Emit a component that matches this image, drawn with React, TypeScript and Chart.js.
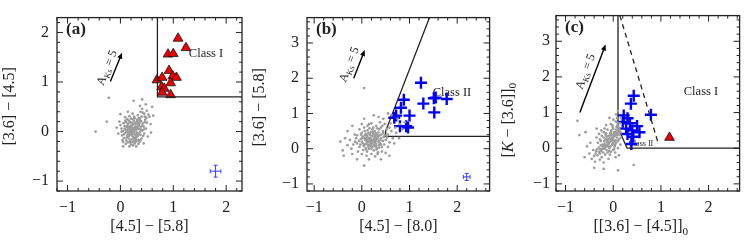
import React, { useEffect, useRef } from 'react';
import { Chart, registerables } from 'chart.js';
Chart.register(...registerables);

const SERIF = '"Liberation Serif", "DejaVu Serif", serif';
const INK = '#222';
const RED = '#ee0000';
const BLUE = '#0000ff';
const GREY = '#9c9c9c';

// ---------------- Panel (a) data ----------------
const aXRange = [-1.2, 2.3];
const aYRange = [-1.2, 2.3];
const aTriX = [1.09, 1.24, 0.9, 1.0, 0.92, 0.69, 0.79, 0.99, 1.06, 0.95, 0.78, 0.83, 0.79, 0.95];
const aTriY = [1.88, 1.69, 1.56, 1.57, 1.23, 1.04, 1.09, 1.12, 1.09, 0.98, 0.9, 0.87, 0.79, 0.74];
const aBoxX = [0.7, 0.7, 2.3];
const aBoxY = [2.3, 0.7, 0.7];
const aArrow = [-0.19, 1.01, 0.03, 1.59];
const aErr = [1.8, -0.8, 0.1, 0.12];
const aCloud: number[][] = [
  [0.22, 0.02], [0.18, -0.05], [0.27, 0.08], [0.31, -0.02], [0.14, 0.04], [0.24, -0.11], [0.35, 0.05], [0.2, 0.12],
  [0.09, -0.03], [0.29, 0.15], [0.38, -0.07], [0.16, -0.14], [0.26, -0.19], [0.33, 0.11], [0.12, 0.09], [0.41, 0.02],
  [0.05, 0.01], [0.19, 0.19], [0.3, -0.12], [0.23, 0.07], [0.13, -0.09], [0.36, 0.18], [0.08, 0.11], [0.28, -0.06],
  [0.17, 0.0], [0.4, -0.14], [0.21, -0.16], [0.34, -0.17], [0.11, -0.18], [0.25, 0.22], [0.44, 0.1], [0.03, -0.08],
  [0.15, 0.16], [0.32, 0.24], [0.06, 0.17], [0.39, 0.21], [0.27, -0.24], [0.19, -0.22], [0.45, -0.04], [0.02, 0.06],
  [0.24, 0.14], [0.3, 0.03], [0.15, -0.02], [0.21, -0.08], [0.37, -0.01], [0.1, 0.03], [0.26, 0.01], [0.33, -0.09],
  [0.18, 0.07], [0.28, 0.1], [0.12, -0.12], [0.22, -0.03], [0.35, 0.13], [0.07, -0.13], [0.42, 0.16], [0.16, 0.22],
  [0.29, -0.16], [0.0, 0.13], [0.48, 0.06], [0.36, -0.21], [0.2, 0.26], [0.13, 0.25], [0.47, 0.24], [0.04, -0.17],
  [0.31, 0.2], [0.24, -0.28], [0.4, 0.3], [0.5, 0.18], [0.17, -0.3], [0.33, 0.33], [0.45, 0.36], [0.26, 0.3],
  [-0.02, 0.2], [0.09, 0.29], [0.52, -0.1], [0.38, 0.4], [-0.04, -0.04], [0.55, 0.3], [0.44, -0.24], [0.1, -0.25],
  [0.3, -0.3], [0.5, 0.42], [0.57, 0.15], [0.23, 0.36], [0.41, 0.46], [0.35, 0.27], [0.46, 0.3], [0.53, 0.34],
  [-0.07, 0.08], [0.6, 0.5], [0.48, 0.55], [0.41, 0.65], [0.25, 0.62], [-0.22, 0.68], [-0.47, 0.0], [-0.26, 0.2],
  [0.14, 0.4], [0.62, 0.32], [0.05, -0.3], [0.58, -0.02], [0.0, 0.35], [0.37, 0.52], [0.2, -0.01], [0.25, 0.05],
  [0.32, 0.07], [0.17, 0.1], [0.23, -0.06], [0.29, -0.09], [0.14, -0.06], [0.38, 0.09], [0.27, 0.18], [0.2, 0.04],
  [0.19, 0.03], [0.26, -0.02], [0.31, 0.09], [0.13, 0.12], [0.22, 0.17], [0.35, -0.04], [0.16, -0.09], [0.28, -0.13],
  [0.39, 0.04], [0.08, 0.06], [0.24, 0.25], [0.18, -0.19], [0.33, 0.16], [0.43, -0.09], [0.11, 0.19], [0.06, -0.06],
  [0.37, 0.26], [0.21, 0.1], [0.3, -0.2], [0.14, -0.22], [0.41, 0.12], [0.25, -0.14], [0.02, 0.0], [0.46, 0.19],
  [0.34, -0.25], [0.09, 0.22], [0.27, 0.27], [0.17, 0.31], [0.44, 0.04], [0.32, -0.05], [0.2, -0.26], [0.38, -0.18],
  [0.12, 0.0], [0.29, 0.05], [0.23, -0.21], [0.36, 0.22], [0.15, 0.08], [0.05, -0.21], [0.49, 0.28], [0.42, 0.38],
];

// ---------------- Panel (b) data ----------------
const bXRange = [-1.15, 2.68];
const bYRange = [-1.2, 3.72];
const bCrossX = [1.24, 1.51, 1.55, 1.78, 1.29, 1.52, 0.88, 0.82, 0.72, 0.68, 1.0, 0.8, 0.93, 0.97];
const bCrossY = [1.87, 1.43, 1.45, 1.41, 1.28, 1.03, 1.39, 1.16, 0.94, 0.88, 0.94, 0.64, 0.64, 0.6];
const bLineX = [2.7, 0.5, 0.5, 1.42];
const bLineY = [0.35, 0.35, 0.5, 3.72];
const bArrow = [-0.17, 2.0, 0.06, 2.8];
const bErr = [2.2, -0.8, 0.07, 0.1];
const bCloud: number[][] = [
  [0.2, 0.25], [0.12, 0.18], [0.28, 0.32], [0.05, 0.1], [0.35, 0.2], [0.18, 0.38], [0.25, 0.12], [0.1, 0.3],
  [0.32, 0.4], [0.0, 0.2], [0.22, 0.05], [0.4, 0.3], [0.15, 0.0], [0.3, 0.08], [0.08, 0.42], [0.45, 0.45],
  [0.27, 0.5], [-0.05, 0.05], [0.38, 0.15], [0.17, 0.22], [0.23, 0.35], [0.13, 0.1], [0.33, 0.27], [0.07, 0.25],
  [0.42, 0.05], [0.02, 0.35], [0.25, -0.05], [0.5, 0.25], [-0.1, 0.15], [0.19, 0.47], [0.36, 0.55], [0.11, -0.08],
  [0.29, 0.22], [0.47, 0.12], [-0.02, 0.4], [0.21, 0.15], [0.14, 0.31], [0.31, -0.02], [0.55, 0.4], [0.03, -0.04],
  [0.4, 0.6], [-0.12, 0.3], [0.26, 0.28], [0.09, 0.14], [0.37, 0.38], [0.16, 0.58], [0.52, 0.55], [-0.08, -0.08],
  [0.24, 0.6], [0.44, 0.22], [0.06, 0.5], [0.34, -0.1], [-0.18, 0.12], [0.58, 0.18], [0.2, -0.15], [0.3, 0.65],
  [0.48, 0.7], [-0.15, 0.4], [0.62, 0.5], [0.12, 0.65], [0.0, -0.15], [0.42, -0.08], [-0.22, 0.0], [0.65, 0.3],
  [0.55, 0.05], [-0.25, 0.25], [0.38, 0.75], [0.1, -0.2], [0.7, 0.6], [-0.3, 0.1], [0.2, 0.72], [0.5, -0.12],
  [-0.05, 0.55], [0.6, 0.72], [0.72, 0.45], [0.28, -0.22], [-0.35, 0.3], [0.45, 0.85], [-0.2, -0.15], [0.8, 0.7],
  [0.68, 0.15], [0.0, 0.7], [-0.4, -0.05], [0.35, 0.9], [0.58, -0.2], [-0.3, 0.5], [0.75, 0.85], [0.15, -0.3],
  [0.85, 0.55], [-0.45, 0.2], [0.05, 0.85], [0.62, 0.95], [-0.1, -0.3], [0.25, 0.95], [0.9, 0.75], [0.4, -0.3],
  [-0.38, -0.2], [0.55, 1.0], [-0.2, 0.65], [0.78, 0.3], [0.05, -0.48], [0.05, 1.72], [0.15, 0.2], [0.27, 0.18],
  [0.33, 0.33], [0.19, 0.08], [0.06, 0.3], [0.24, 0.42], [0.41, 0.4], [0.11, 0.37], [0.3, 0.14], [0.17, 0.28],
  [-0.02, 0.28], [0.46, 0.33], [0.22, 0.22], [0.14, 0.44], [0.36, 0.1], [0.08, 0.02], [0.29, 0.44], [0.03, 0.15],
  [0.18, 0.3], [0.26, 0.2], [0.1, 0.22], [0.34, 0.36], [0.04, 0.08], [0.23, 0.48], [0.31, 0.02], [0.16, 0.12],
  [0.39, 0.24], [0.01, 0.3], [0.12, 0.52], [0.28, 0.38], [0.44, 0.5], [0.2, 0.0], [0.07, 0.38], [0.35, 0.46],
  [-0.06, 0.22], [0.25, 0.25], [0.14, 0.05], [0.48, 0.38], [0.32, 0.58], [0.09, -0.02], [-0.03, 0.12], [0.4, 0.12],
  [0.22, 0.55], [0.17, 0.4], [0.3, 0.28], [0.12, 0.26], [0.36, 0.03], [0.53, 0.32], [0.05, 0.6], [0.27, 0.07],
  [-0.1, 0.38], [0.43, 0.65], [0.19, 0.16], [0.0, 0.45], [0.58, 0.6], [0.33, -0.15], [0.15, 0.7], [-0.14, 0.2],
];

// ---------------- Panel (c) data ----------------
const cXRange = [-1.2, 2.65];
const cYRange = [-1.2, 3.72];
const cCrossX = [0.43, 0.37, 0.79, 0.22, 0.3, 0.2, 0.35, 0.5, 0.27, 0.4, 0.55, 0.3, 0.42, 0.38];
const cCrossY = [1.47, 1.25, 0.94, 0.92, 0.84, 0.74, 0.7, 0.62, 0.55, 0.5, 0.45, 0.4, 0.32, 0.12];
const cTriX = [1.18];
const cTriY = [0.3];
const cSolidX = [0.1, 0.1, 0.29, 2.7];
const cSolidY = [3.72, 0.58, 0.0, 0.0];
const cDashX = [0.14, 0.93];
const cDashY = [3.72, 0.2];
const cArrow = [-0.7, 1.0, -0.16, 2.91];
const cCloud: number[][] = [
  [-0.05, 0.2], [0.0, 0.28], [-0.1, 0.12], [0.04, 0.35], [-0.15, 0.05], [0.07, 0.42], [-0.2, -0.02], [-0.02, 0.1],
  [-0.08, 0.28], [0.05, 0.22], [-0.12, 0.2], [0.02, 0.45], [-0.18, 0.12], [0.1, 0.5], [-0.25, -0.08], [-0.03, 0.38],
  [-0.14, -0.05], [0.08, 0.3], [-0.06, 0.05], [-0.22, 0.1], [0.0, 0.15], [-0.1, 0.35], [0.12, 0.58], [-0.28, -0.15],
  [0.06, 0.15], [-0.16, 0.25], [-0.04, 0.5], [-0.3, 0.02], [0.03, 0.05], [-0.2, 0.3], [0.09, 0.65], [-0.33, -0.2],
  [-0.09, -0.08], [0.12, 0.38], [-0.26, 0.2], [-0.01, 0.6], [-0.36, -0.08], [0.0, -0.05], [-0.15, 0.42], [0.14, 0.7],
  [-0.24, -0.25], [0.1, 0.2], [-0.4, -0.22], [-0.12, 0.52], [0.05, 0.75], [-0.32, 0.15], [-0.07, -0.18], [-0.2, 0.45],
  [0.04, -0.12], [-0.42, -0.05], [0.15, 0.45], [-0.05, 0.68], [-0.17, -0.18], [-0.35, 0.3], [0.08, 0.85], [-0.28, -0.32],
  [0.1, 0.0], [-0.25, 0.5], [-0.45, -0.3], [0.0, 0.8], [-0.1, -0.3], [-0.3, 0.4], [0.16, 0.3], [-0.5, -0.15],
  [-0.15, 0.65], [0.05, -0.25], [-0.38, -0.38], [0.06, 0.95], [-0.55, 0.05], [-0.2, -0.4], [-0.08, 0.85], [0.15, 0.1],
  [-0.6, -0.25], [-0.35, 0.55], [0.12, -0.2], [-0.48, 0.15], [0.1, 1.05], [-0.71, 0.37], [-0.75, 0.77], [-0.2, -0.58],
  [0.1, -0.62], [-0.4, -0.55], [-0.58, 0.45], [0.16, 0.85], [-0.03, 0.3], [-0.07, 0.18], [-0.13, 0.1], [0.02, 0.4],
  [-0.18, 0.0], [-0.11, 0.25], [-0.22, 0.05], [0.06, 0.52], [-0.06, 0.42], [-0.27, -0.03], [0.43, -0.47], [-0.01, 0.22],
  [-0.04, 0.25], [-0.09, 0.15], [0.01, 0.33], [-0.13, 0.18], [0.03, 0.2], [-0.06, 0.36], [-0.17, 0.07], [0.05, 0.45],
  [-0.11, 0.05], [-0.01, 0.12], [-0.19, 0.2], [0.08, 0.38], [-0.23, -0.02], [-0.05, 0.45], [0.0, 0.55], [-0.14, 0.32],
  [-0.26, 0.08], [0.07, 0.6], [-0.08, 0.0], [-0.21, -0.12], [0.11, 0.45], [-0.3, -0.1], [-0.16, 0.38], [0.04, 0.1],
  [-0.02, 0.65], [-0.12, -0.12], [0.13, 0.52], [-0.34, -0.03], [-0.24, 0.35], [0.02, -0.02], [-0.18, 0.55], [0.09, 0.72],
  [-0.37, -0.15], [-0.05, -0.1], [-0.28, 0.25], [0.12, 0.25],
];

type Seg = { t: string; it?: boolean; sub?: boolean };
type Label = { text: Seg[]; x: number; y: number; size: number; under?: boolean };

type PanelCfg = {
  left: number; width: number; yAxisW: number; padRight: number; yTickPad: number;
  xRange: number[]; yRange: number[];
  tag: string;
  xTitle: Seg[]; yTitle: Seg[]; xTitleDx: number; yTitleDy: number; yTitleX: number;
  datasets: any[];
  arrow: number[]; arrowText: number[];
  err: number[] | null;
  labels: Label[];
};

const pts = (xs: number[], ys: number[]) => xs.map((x, i) => ({ x, y: ys[i] }));
const cloudPts = (c: number[][]) => c.map(([x, y]) => ({ x, y }));

const cloudDs = (c: number[][]) => ({
  data: cloudPts(c), pointRadius: 1.35, pointBorderWidth: 0, pointBackgroundColor: GREY, showLine: false,
});
const lineDs = (xs: number[], ys: number[], dash: number[] = []) => ({
  data: pts(xs, ys), showLine: true, pointRadius: 0, borderColor: INK, borderWidth: 1.3, borderDash: dash, fill: false, tension: 0,
});
const triDs = (xs: number[], ys: number[]) => ({
  data: pts(xs, ys), pointStyle: 'triangle', pointRadius: 5.6, pointBackgroundColor: RED, pointBorderColor: '#111', pointBorderWidth: 0.8, showLine: false,
});
const crossDs = (xs: number[], ys: number[]) => ({
  data: pts(xs, ys), pointStyle: 'cross', pointRadius: 6, pointBorderColor: BLUE, pointBorderWidth: 2.4, showLine: false,
});

const AKS: Seg[] = [{ t: 'A' }, { t: 'Ks', sub: true }, { t: ' = 5' }];

const panels: PanelCfg[] = [
  {
    left: 0, width: 250, yAxisW: 57, padRight: 8, yTickPad: 8,
    xRange: aXRange, yRange: aYRange, tag: '(a)',
    xTitle: [{ t: '[4.5] − [5.8]' }], yTitle: [{ t: '[3.6] − [4.5]' }], xTitleDx: 0, yTitleDy: 2, yTitleX: 9.5,
    datasets: [cloudDs(aCloud), lineDs(aBoxX, aBoxY), triDs(aTriX, aTriY)],
    arrow: aArrow, arrowText: [-4, 8], err: aErr,
    labels: [{ text: [{ t: 'Class I' }], x: 1.62, y: 1.57, size: 12.5 }],
  },
  {
    left: 250, width: 248, yAxisW: 57, padRight: 6, yTickPad: 8,
    xRange: bXRange, yRange: bYRange, tag: '(b)',
    xTitle: [{ t: '[4.5] − [8.0]' }], yTitle: [{ t: '[3.6] − [5.8]' }], xTitleDx: 0, yTitleDy: 3, yTitleX: 9.5,
    datasets: [cloudDs(bCloud), lineDs(bLineX, bLineY), crossDs(bCrossX, bCrossY)],
    arrow: bArrow, arrowText: [-4, 9], err: bErr,
    labels: [{ text: [{ t: 'Class II' }], x: 1.89, y: 1.58, size: 12.5, under: true }],
  },
  {
    left: 498, width: 250, yAxisW: 58, padRight: 8, yTickPad: 6,
    xRange: cXRange, yRange: cYRange, tag: '(c)',
    xTitle: [{ t: '[[3.6] − [4.5]]' }, { t: '0', sub: true }],
    yTitle: [{ t: '[' }, { t: 'K', it: true }, { t: ' − [3.6]]' }, { t: '0', sub: true }],
    xTitleDx: -7, yTitleDy: 17, yTitleX: 10.5,
    datasets: [cloudDs(cCloud), lineDs(cSolidX, cSolidY), lineDs(cDashX, cDashY, [5, 4]), crossDs(cCrossX, cCrossY), triDs(cTriX, cTriY)],
    arrow: cArrow, arrowText: [4, 9], err: null,
    labels: [
      { text: [{ t: 'Class I' }], x: 1.84, y: 1.58, size: 12.5 },
      { text: [{ t: 'Class II' }], x: 0.58, y: 0.13, size: 8, under: true },
    ],
  },
];

function segFont(s: Seg, size: number) {
  const sz = s.sub ? size * 0.7 : size;
  return `${s.it ? 'italic ' : ''}${sz}px ${SERIF}`;
}
function richWidth(ctx: CanvasRenderingContext2D, segs: Seg[], size: number) {
  let w = 0;
  for (const s of segs) { ctx.font = segFont(s, size); w += ctx.measureText(s.t).width; }
  return w;
}
function drawRich(ctx: CanvasRenderingContext2D, segs: Seg[], cx: number, cy: number, size: number, rot = 0) {
  ctx.save();
  ctx.translate(cx, cy);
  ctx.rotate(rot);
  ctx.fillStyle = INK;
  ctx.textBaseline = 'middle';
  ctx.textAlign = 'left';
  let x = -richWidth(ctx, segs, size) / 2;
  for (const s of segs) {
    ctx.font = segFont(s, size);
    ctx.fillText(s.t, x, s.sub ? size * 0.3 : 0);
    x += ctx.measureText(s.t).width;
  }
  ctx.restore();
}

function makeDeco(p: PanelCfg) {
  return {
    id: 'deco',
    beforeDatasetsDraw(chart: any) {
      const ctx = chart.ctx as CanvasRenderingContext2D;
      const xs = chart.scales.x, ys = chart.scales.y;
      for (const l of p.labels) if (l.under) drawRich(ctx, l.text, xs.getPixelForValue(l.x), ys.getPixelForValue(l.y), l.size);
    },
    afterDatasetsDraw(chart: any) {
      const ctx = chart.ctx as CanvasRenderingContext2D;
      const xs = chart.scales.x, ys = chart.scales.y;
      for (const l of p.labels) if (!l.under) drawRich(ctx, l.text, xs.getPixelForValue(l.x), ys.getPixelForValue(l.y), l.size);
      // arrow
      const x0 = xs.getPixelForValue(p.arrow[0]), y0 = ys.getPixelForValue(p.arrow[1]);
      const x1 = xs.getPixelForValue(p.arrow[2]), y1 = ys.getPixelForValue(p.arrow[3]);
      const ang = Math.atan2(y1 - y0, x1 - x0);
      const len = Math.hypot(x1 - x0, y1 - y0);
      ctx.save();
      ctx.translate(x0, y0);
      ctx.rotate(ang);
      ctx.strokeStyle = '#000';
      ctx.fillStyle = '#000';
      ctx.lineWidth = 1.4;
      ctx.beginPath(); ctx.moveTo(0, 0); ctx.lineTo(len - 5, 0); ctx.stroke();
      ctx.beginPath(); ctx.moveTo(len, 0); ctx.lineTo(len - 6, -2.6); ctx.lineTo(len - 6, 2.6); ctx.closePath(); ctx.fill();
      ctx.restore();
      const mx = (x0 + x1) / 2, my = (y0 + y1) / 2;
      const ux = Math.cos(ang), uy = Math.sin(ang);
      const along = p.arrowText[0], perp = p.arrowText[1];
      const tx = mx + ux * along + uy * perp;
      const ty = my + uy * along - ux * perp;
      drawRich(ctx, AKS, tx, ty, 12, ang);
      // error bar
      if (p.err) {
        const ex = xs.getPixelForValue(p.err[0]), ey = ys.getPixelForValue(p.err[1]);
        const exl = xs.getPixelForValue(p.err[0] - p.err[2]), exr = xs.getPixelForValue(p.err[0] + p.err[2]);
        const eyt = ys.getPixelForValue(p.err[1] + p.err[3]), eyb = ys.getPixelForValue(p.err[1] - p.err[3]);
        ctx.save();
        ctx.strokeStyle = '#3a3aff';
        ctx.lineWidth = 1;
        ctx.beginPath();
        ctx.moveTo(exl, ey); ctx.lineTo(exr, ey);
        ctx.moveTo(ex, eyt); ctx.lineTo(ex, eyb);
        ctx.moveTo(exl, ey - 2); ctx.lineTo(exl, ey + 2);
        ctx.moveTo(exr, ey - 2); ctx.lineTo(exr, ey + 2);
        ctx.moveTo(ex - 2, eyt); ctx.lineTo(ex + 2, eyt);
        ctx.moveTo(ex - 2, eyb); ctx.lineTo(ex + 2, eyb);
        ctx.stroke();
        ctx.restore();
      }
    },
    afterDraw(chart: any) {
      const ctx = chart.ctx as CanvasRenderingContext2D;
      const { left, right, top, bottom } = chart.chartArea;
      const xs = chart.scales.x, ys = chart.scales.y;
      ctx.save();
      ctx.strokeStyle = INK;
      ctx.lineWidth = 1.3;
      ctx.strokeRect(left, top, right - left, bottom - top);
      ctx.lineWidth = 1;
      ctx.beginPath();
      for (let i = Math.ceil(xs.min * 5 - 1e-6); i <= Math.floor(xs.max * 5 + 1e-6); i++) {
        const L = i % 5 === 0 ? 6 : 3;
        const px = xs.getPixelForValue(i / 5);
        ctx.moveTo(px, bottom); ctx.lineTo(px, bottom - L);
        ctx.moveTo(px, top); ctx.lineTo(px, top + L);
      }
      for (let i = Math.ceil(ys.min * 5 - 1e-6); i <= Math.floor(ys.max * 5 + 1e-6); i++) {
        const L = i % 5 === 0 ? 6 : 3;
        const py = ys.getPixelForValue(i / 5);
        ctx.moveTo(left, py); ctx.lineTo(left + L, py);
        ctx.moveTo(right, py); ctx.lineTo(right - L, py);
      }
      ctx.stroke();
      ctx.fillStyle = INK;
      ctx.font = `bold 17px ${SERIF}`;
      ctx.textAlign = 'left';
      ctx.textBaseline = 'middle';
      ctx.fillText(p.tag, left + 9, top + 12);
      ctx.restore();
      drawRich(ctx, p.xTitle, (left + right) / 2 + p.xTitleDx, 227, 16);
      drawRich(ctx, p.yTitle, p.yTitleX, (top + bottom) / 2 + p.yTitleDy, 16, -Math.PI / 2);
    },
  };
}

const fmt = (v: number) => (Number.isInteger(v) ? (v < 0 ? '−' + Math.abs(v) : String(v)) : '');

function Panel({ p }: { p: PanelCfg }) {
  const ref = useRef<HTMLCanvasElement | null>(null);
  useEffect(() => {
    if (!ref.current) return;
    const tickFont = { family: SERIF, size: 16 };
    const chart = new Chart(ref.current, {
      type: 'scatter',
      data: { datasets: p.datasets as any },
      options: {
        animation: false,
        responsive: false,
        maintainAspectRatio: false,
        devicePixelRatio: 1,
        events: [],
        layout: { padding: { top: 5, right: p.padRight, bottom: 0, left: 0 } },
        plugins: { legend: { display: false }, tooltip: { enabled: false } },
        scales: {
          x: {
            type: 'linear', min: p.xRange[0], max: p.xRange[1],
            grid: { display: false, drawTicks: false },
            border: { display: false },
            ticks: { stepSize: 1, includeBounds: false, padding: 7, font: tickFont, color: INK, callback: (v: any) => fmt(Number(v)), maxRotation: 0, autoSkip: false },
            afterFit: (s: any) => { s.height = 52; },
          },
          y: {
            type: 'linear', min: p.yRange[0], max: p.yRange[1],
            grid: { display: false, drawTicks: false },
            border: { display: false },
            ticks: { stepSize: 1, includeBounds: false, padding: p.yTickPad, font: tickFont, color: INK, callback: (v: any) => fmt(Number(v)), autoSkip: false },
            afterFit: (s: any) => { s.width = p.yAxisW; },
          },
        },
      } as any,
      plugins: [makeDeco(p)],
    });
    return () => chart.destroy();
  }, [p]);
  return (
    <canvas
      ref={ref}
      width={p.width}
      height={243}
      style={{ position: 'absolute', left: p.left, top: 0, width: p.width, height: 243 }}
    />
  );
}

export default function App() {
  return (
    <div style={{ position: 'absolute', left: 0, top: 0, width: 748, height: 243, background: '#fff', overflow: 'hidden' }}>
      {panels.map((p) => <Panel key={p.tag} p={p} />)}
    </div>
  );
}
